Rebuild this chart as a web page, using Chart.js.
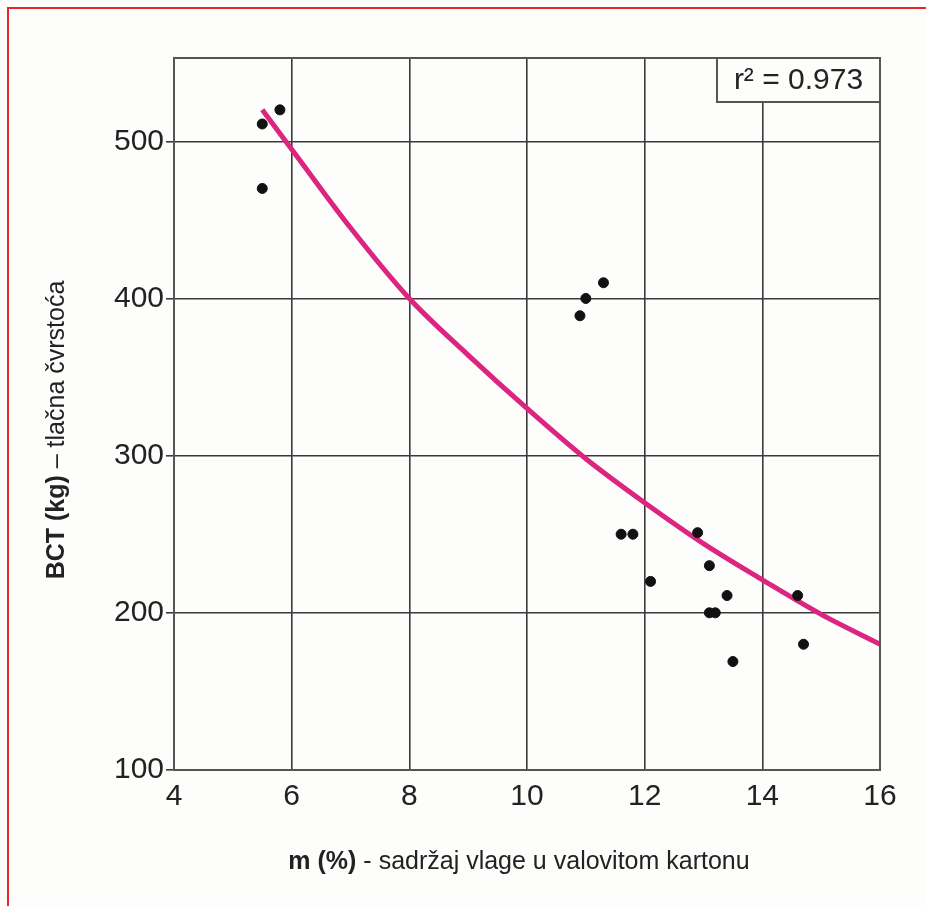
<!DOCTYPE html>
<html>
<head>
<meta charset="utf-8">
<script src="https://cdn.jsdelivr.net/npm/chart.js@4.4.1/dist/chart.umd.min.js"></script>
<style>
  body { margin: 0; background: #fdfdfc; }
  #chart { position: absolute; left: 0; top: 0; }
</style>
</head>
<body>
<canvas id="chart" width="926" height="906"></canvas>
<script>
// measured points: moisture (%) and BCT (kg)
const moisture = [5.5, 5.8, 5.5, 11.3, 11.0, 10.9, 11.6, 11.8, 12.9, 12.1, 13.1, 13.4, 13.1, 13.2, 13.5, 14.6, 14.7]
const bct = [511, 520, 470, 410, 400, 389, 250, 250, 251, 220, 230, 211, 200, 200, 169, 211, 180]

// fitted curve
const curveX = [5.5, 6, 7, 8, 9, 10, 11, 12, 13, 14, 15, 16]
const curveY = [520, 495, 445, 400, 364, 330, 298, 270, 244, 221, 199, 180]

const xTicks = [4, 6, 8, 10, 12, 14, 16]
const yTicks = [100, 200, 300, 400, 500]
const r2Label = "r² = 0.973"

const FONT = "'Liberation Sans', Arial, sans-serif"
const GRID = "#3a3a3a"

const toPts = (xs, ys) => xs.map((x, i) => ({ x: x, y: ys[i] }))

const decor = {
    id: "decor",
    beforeDraw(chart) {
        const ctx = chart.ctx
        ctx.save()
        ctx.fillStyle = "#fdfdfc"
        ctx.fillRect(0, 0, chart.width, chart.height)
        ctx.strokeStyle = "#e8262a"
        ctx.lineWidth = 2
        ctx.beginPath()
        ctx.moveTo(8, chart.height)
        ctx.lineTo(8, 8)
        ctx.lineTo(chart.width, 8)
        ctx.stroke()
        ctx.restore()
    },
    afterDraw(chart) {
        const ctx = chart.ctx
        const a = chart.chartArea
        ctx.save()
        // frame
        ctx.strokeStyle = "#555"
        ctx.lineWidth = 2
        ctx.strokeRect(a.left, a.top, a.right - a.left, a.bottom - a.top)

        // r2 box
        ctx.fillStyle = "#fdfdfc"
        ctx.fillRect(717, a.top, a.right - 717, 44)
        ctx.strokeRect(717, a.top, a.right - 717, 44)
        ctx.fillStyle = "#222"
        ctx.font = "30px " + FONT
        ctx.textAlign = "center"
        ctx.textBaseline = "middle"
        ctx.fillText(r2Label, (717 + a.right) / 2, a.top + 23)

        // axis titles with bold lead
        const drawMixed = (bold, rest, cx, cy) => {
            ctx.textAlign = "left"
            ctx.textBaseline = "middle"
            ctx.font = "bold 25px " + FONT
            const w1 = ctx.measureText(bold).width
            ctx.font = "25px " + FONT
            const w2 = ctx.measureText(rest).width
            let x0 = cx - (w1 + w2) / 2
            ctx.font = "bold 25px " + FONT
            ctx.fillText(bold, x0, cy)
            ctx.font = "25px " + FONT
            ctx.fillText(rest, x0 + w1, cy)
        }
        ctx.fillStyle = "#222"
        drawMixed("m (%)", " - sadržaj vlage u valovitom kartonu", 519, 862)
        ctx.save()
        ctx.translate(57, 430)
        ctx.rotate(-Math.PI / 2)
        drawMixed("BCT (kg)", " – tlačna čvrstoća", 0, 0)
        ctx.restore()
        ctx.restore()
    }
}

const chart = new Chart(document.getElementById("chart"), {
    type: "scatter",
    data: {
        datasets: [
            {
                label: "fit",
                data: toPts(curveX, curveY),
                showLine: true,
                borderColor: "#db2580",
                borderWidth: 5,
                pointRadius: 0,
                cubicInterpolationMode: "monotone",
                order: 2
            },
            {
                label: "BCT",
                data: toPts(moisture, bct),
                backgroundColor: "#111",
                borderColor: "#111",
                pointRadius: 5,
                order: 1
            }
        ]
    },
    options: {
        responsive: false,
        animation: false,
        layout: { padding: { top: 58, right: 46, left: 0, bottom: 0 } },
        plugins: { legend: { display: false }, tooltip: { enabled: false } },
        scales: {
            x: {
                type: "linear",
                min: 4,
                max: 16,
                afterBuildTicks: s => { s.ticks = xTicks.map(v => ({ value: v })) },
                afterFit: s => { s.height = 136 },
                grid: { color: GRID, lineWidth: 1.6, drawTicks: false },
                border: { color: "#555", width: 2 },
                ticks: { color: "#222", font: { family: FONT, size: 30 }, padding: 9, maxRotation: 0 }
            },
            y: {
                type: "linear",
                min: 100,
                max: 553,
                afterBuildTicks: s => { s.ticks = yTicks.map(v => ({ value: v })) },
                afterFit: s => { s.width = 174 },
                grid: { color: GRID, lineWidth: 1.6, tickLength: 8 },
                border: { color: "#555", width: 2 },
                ticks: { color: "#222", font: { family: FONT, size: 30 }, padding: 2 }
            }
        }
    },
    plugins: [decor]
})
</script>
</body>
</html>
